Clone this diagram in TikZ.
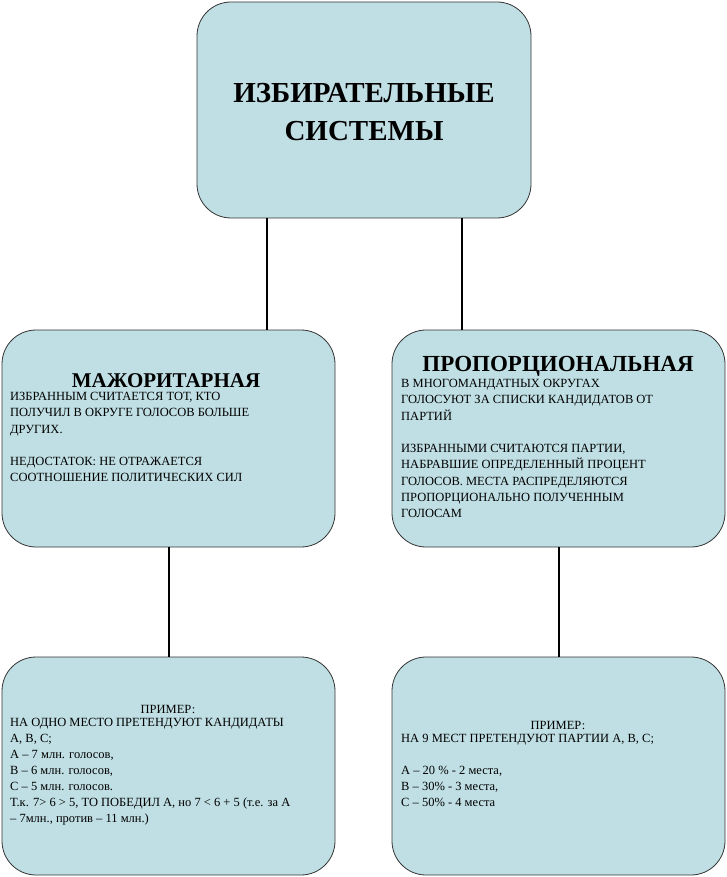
\documentclass[tikz,border=0pt]{standalone}
\usepackage{fontspec}
\setmainfont{Liberation Serif}
\begin{document}
\begin{tikzpicture}[x=1pt,y=-1pt,
  box/.style={draw=black!80,line width=0.8pt,fill={rgb,255:red,192;green,223;blue,228},rounded corners=34pt,inner sep=0pt},
  link/.style={line width=2pt,black},
  body/.style={anchor=north west,align=left,inner sep=0pt,font=\fontsize{12.5}{16.3}\selectfont},
  head/.style={inner sep=0pt,font=\bfseries\fontsize{21}{24}\selectfont}]
\useasboundingbox (0,0) rectangle (727,877);
\node[box,minimum width=334pt,minimum height=216pt] (top) at (364,110) {};
\node[box,minimum width=333pt,minimum height=217pt] (maj) at (168.5,438.5) {};
\node[box,minimum width=333pt,minimum height=217pt] (pro) at (558.5,438.5) {};
\node[box,minimum width=333pt,minimum height=218pt] (exl) at (168.5,766) {};
\node[box,minimum width=333pt,minimum height=218pt] (exr) at (558.5,766) {};
\draw[link] (267,0 |- top.south) -- (267,0 |- maj.north);
\draw[link] (462,0 |- top.south) -- (462,0 |- pro.north);
\draw[link] (169,0 |- maj.south) -- (169,0 |- exl.north);
\draw[link] (559,0 |- pro.south) -- (559,0 |- exr.north);
\node[inner sep=0pt,align=center,font=\bfseries\fontsize{29}{38}\selectfont] (title) at (364,112) {ИЗБИРАТЕЛЬНЫЕ\\СИСТЕМЫ};
\node[head] (majh) at (166,381) {МАЖОРИТАРНАЯ};
\node[body] (majb) at (10,392) {ИЗБРАННЫМ СЧИТАЕТСЯ ТОТ, КТО\\ПОЛУЧИЛ В ОКРУГЕ ГОЛОСОВ БОЛЬШЕ\\ДРУГИХ.\\[16.3pt]НЕДОСТАТОК: НЕ ОТРАЖАЕТСЯ\\СООТНОШЕНИЕ ПОЛИТИЧЕСКИХ СИЛ};
\node[head,font=\bfseries\fontsize{23}{26}\selectfont] (proh) at (558,366) {ПРОПОРЦИОНАЛЬНАЯ};
\node[body] (prob) at (401,379) {В МНОГОМАНДАТНЫХ ОКРУГАХ\\ГОЛОСУЮТ ЗА СПИСКИ КАНДИДАТОВ ОТ\\ПАРТИЙ\\[16.3pt]ИЗБРАННЫМИ СЧИТАЮТСЯ ПАРТИИ,\\НАБРАВШИЕ ОПРЕДЕЛЕННЫЙ ПРОЦЕНТ\\ГОЛОСОВ. МЕСТА РАСПРЕДЕЛЯЮТСЯ\\ПРОПОРЦИОНАЛЬНО ПОЛУЧЕННЫМ\\ГОЛОСАМ};
\node[inner sep=0pt,font=\fontsize{12.5}{16}\selectfont] (exlh) at (168,709) {ПРИМЕР:};
\node[body,font=\fontsize{12.5}{16}\selectfont] (exlb) at (10,718) {НА ОДНО МЕСТО ПРЕТЕНДУЮТ КАНДИДАТЫ\\А, В, С;\\А – 7 млн. голосов,\\В – 6 млн. голосов,\\С – 5 млн. голосов.\\Т.к. 7> 6 > 5, ТО ПОБЕДИЛ А, но 7 < 6 + 5 (т.е. за А\\– 7млн., против – 11 млн.)};
\node[inner sep=0pt,font=\fontsize{12.5}{16}\selectfont] (exrh) at (558,725) {ПРИМЕР:};
\node[body,font=\fontsize{12.5}{16}\selectfont] (exrb) at (401,734) {НА 9 МЕСТ ПРЕТЕНДУЮТ ПАРТИИ А, В, С;\\[16pt]А – 20 \% - 2 места,\\В – 30\% - 3 места,\\С – 50\% - 4 места};
\end{tikzpicture}
\end{document}
